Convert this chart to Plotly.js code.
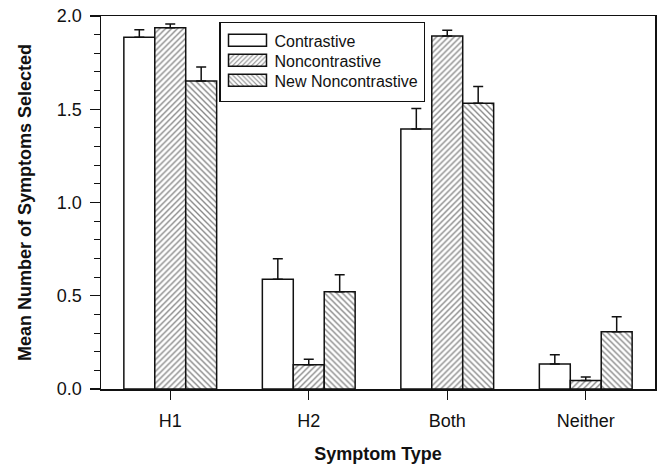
<!DOCTYPE html>
<html>
<head>
<meta charset="utf-8">
<script src="https://cdn.plot.ly/plotly-3.0.1.min.js"></script>
<style>html,body{margin:0;padding:0;background:#fff;}#chart{width:658px;height:464px;}</style>
</head>
<body>
<div id="chart"></div>
<script>
const categories = ["H1", "H2", "Both", "Neither"];
const seriesNames = ["Contrastive", "Noncontrastive", "New Noncontrastive"];
const contrastive = [1.886, 0.588, 1.394, 0.134];
const contrastiveErr = [0.04, 0.11, 0.11, 0.05];
const noncontrastive = [1.937, 0.130, 1.893, 0.045];
const noncontrastiveErr = [0.02, 0.03, 0.03, 0.02];
const newNoncontrastive = [1.651, 0.522, 1.532, 0.307];
const newNoncontrastiveErr = [0.075, 0.09, 0.09, 0.08];
const yTickVals = [0, 0.5, 1.0, 1.5, 2.0];
const yTickText = ["0.0", "0.5", "1.0", "1.5", "2.0"];

const FONT = "Liberation Sans, Arial, Helvetica, sans-serif";
const zeros = categories.map(() => 0);

function barTrace(name, y, err, shape) {
  return {
    type: "bar",
    name: name,
    x: categories,
    y: y,
    marker: {
      color: "#ffffff",
      line: {color: "#111", width: 1.5},
      pattern: {shape: shape, size: 4.2, solidity: 0.33, fgcolor: "#111", bgcolor: "#ffffff", fillmode: "overlay"}
    },
    error_y: {type: "data", symmetric: false, array: err, arrayminus: zeros, color: "#111", thickness: 1.5, width: 5},
    hoverinfo: "skip"
  };
}

const data = [
  barTrace(seriesNames[0], contrastive, contrastiveErr, ""),
  barTrace(seriesNames[1], noncontrastive, noncontrastiveErr, "/"),
  barTrace(seriesNames[2], newNoncontrastive, newNoncontrastiveErr, "\\")
];

const layout = {
  width: 658, height: 464,
  margin: {l: 101, r: 3, t: 16, b: 75, pad: 0},
  paper_bgcolor: "#fff", plot_bgcolor: "#fff",
  font: {family: FONT, size: 18, color: "#111"},
  barmode: "group", bargap: 0.33, bargroupgap: 0,
  showlegend: true,
  legend: {
    x: 0.213, y: 0.984, xanchor: "left", yanchor: "top",
    bordercolor: "#111", borderwidth: 1.5, bgcolor: "#fff",
    font: {family: FONT, size: 16, color: "#111"},
    itemwidth: 44, tracegroupgap: 0, traceorder: "normal",
    itemclick: false, itemdoubleclick: false
  },
  xaxis: {
    type: "category", range: [-0.5, 3.5],
    showline: true, linecolor: "#111", linewidth: 1.5, mirror: true,
    ticks: "outside", ticklen: 9, tickwidth: 1.2, tickcolor: "#111",
    ticklabelstandoff: 6,
    showgrid: false, zeroline: false,
    tickfont: {family: FONT, size: 18, color: "#111"},
    title: {text: "<b>Symptom Type</b>", font: {family: FONT, size: 18, color: "#111"}, standoff: 17}
  },
  yaxis: {
    range: [0, 2], tickmode: "array", tickvals: yTickVals, ticktext: yTickText,
    showline: true, linecolor: "#111", linewidth: 1.5, mirror: true,
    ticks: "outside", ticklen: 10, tickwidth: 1.2, tickcolor: "#111",
    ticklabelstandoff: 4,
    minor: {dtick: 0.1, ticks: "outside", ticklen: 6, tickwidth: 1, tickcolor: "#111", showgrid: false},
    showgrid: false, zeroline: false,
    tickfont: {family: FONT, size: 18, color: "#111"},
    title: {text: "<b>Mean Number of Symptoms Selected</b>", font: {family: FONT, size: 18, color: "#111"}, standoff: 20}
  }
};

function fixLegend() {
  const gd = document.getElementById("chart");
  gd.querySelectorAll(".legend .legendpoints path").forEach(function (p) {
    p.setAttribute("d", "M19,6H-19V-6H19Z");
  });
  const traces = gd.querySelectorAll(".legend .traces");
  if (traces.length) {
    const m = /translate\(\s*([-\d.]+)[ ,]+([-\d.]+)\s*\)/.exec(traces[0].getAttribute("transform") || "");
    if (m) {
      const x0 = parseFloat(m[1]), y0 = parseFloat(m[2]);
      traces.forEach(function (t, i) {
        t.setAttribute("transform", "translate(" + x0 + "," + (y0 + 20 * i) + ")");
      });
    }
  }
  const bg = gd.querySelector(".legend rect.bg");
  if (bg) bg.setAttribute("height", "79");
}

Plotly.newPlot("chart", data, layout, {staticPlot: true, displayModeBar: false}).then(function (gd) {
  gd.on && gd.on("plotly_afterplot", fixLegend);
  fixLegend();
  setTimeout(fixLegend, 50);
  setTimeout(fixLegend, 300);
});
</script>
</body>
</html>
